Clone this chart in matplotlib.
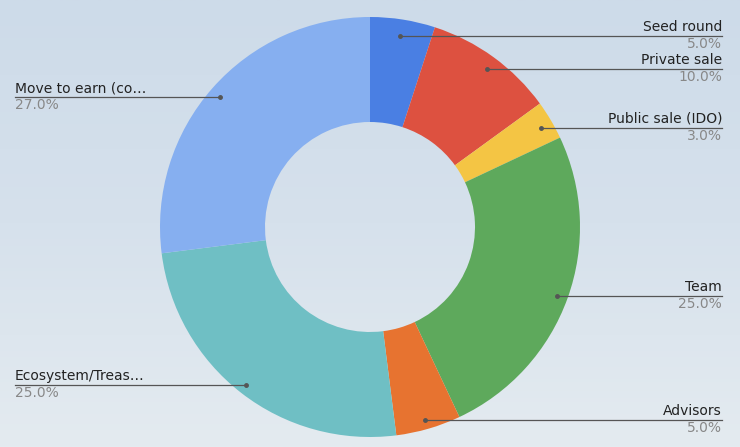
import numpy as np
import matplotlib.pyplot as plt
from matplotlib.colors import LinearSegmentedColormap

labels = ["Seed round", "Private sale", "Public sale (IDO)", "Team", "Advisors",
          "Ecosystem/Treas…", "Move to earn (co…"]
values = [5.0, 10.0, 3.0, 25.0, 5.0, 25.0, 27.0]
colors = ["#4a7fe3", "#dd5140", "#f4c544", "#5ea95c", "#e77330", "#6fbfc4", "#86aff0"]

# label layout in pixels: (line y, dot x, side)
layout = [(36, 400, "r"), (69, 487, "r"), (128, 541, "r"), (296, 557, "r"),
          (420, 425, "r"), (385, 246, "l"), (97, 220, "l")]

W, H = 740, 447
fig = plt.figure(figsize=(7.4, 4.47), dpi=100)
ax = fig.add_axes([0, 0, 1, 1])

grad = np.linspace(0, 1, 256).reshape(-1, 1)
bg = LinearSegmentedColormap.from_list("bg", ["#cddbe9", "#d6e1ec", "#e4ebf0"])
ax.imshow(grad, cmap=bg, extent=[0, W, 0, H], origin="upper", aspect="auto", zorder=0)

cx, cy, R = 370, H - 227, 210
ax.pie(values, colors=colors, startangle=90, counterclock=False,
       center=(cx, cy), radius=R, wedgeprops=dict(width=R * 0.5, edgecolor="none"))

for lab, v, (ly, dx, side) in zip(labels, values, layout):
    y = H - ly
    if side == "r":
        x0, x1, xt, ha = dx, 722, 722, "right"
    else:
        x0, x1, xt, ha = 15, dx, 15, "left"
    ax.plot([x0, x1], [y, y], color="#555555", lw=0.9, zorder=3)
    ax.plot([dx], [y], "o", color="#555555", ms=2.5, zorder=4)
    ax.text(xt, y + 2, lab, ha=ha, va="bottom", fontsize=10, color="#222222")
    ax.text(xt, y - 1, f"{v:.1f}%", ha=ha, va="top", fontsize=10, color="#888888")

ax.set_xlim(0, W)
ax.set_ylim(0, H)
ax.set_aspect("auto")
ax.set_axis_off()
fig.savefig("out.png", dpi=100)
